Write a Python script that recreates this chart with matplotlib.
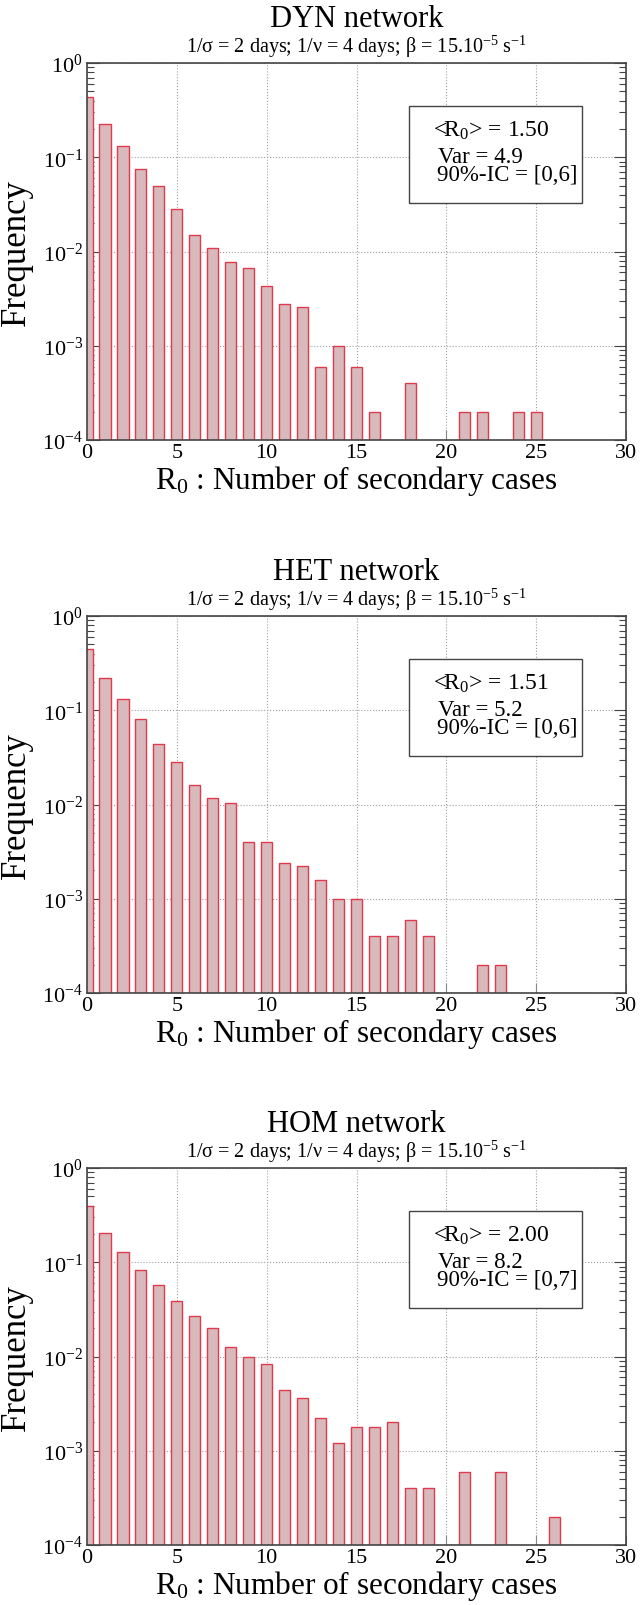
# -*- coding: utf-8 -*-
"""
Description: Distribution of the number of secondary cases (R0) for three
             network types (DYN, HET, HOM), log scale histograms
"""
# =============================     Import modules     =====================
import matplotlib
matplotlib.use('Agg')
import matplotlib.pyplot as plt
from matplotlib.patches import Rectangle
from matplotlib.ticker import LogLocator, NullFormatter, MultipleLocator

# ================   Data  =================================================
dyn_r0   = [0, 1, 2, 3, 4, 5, 6, 7, 8, 9, 10, 11, 12, 13, 14, 15, 16,
            18, 21, 22, 24, 25]
dyn_freq = [0.44, 0.225, 0.131, 0.075, 0.050, 0.028, 0.0151, 0.0110,
            0.0078, 0.0067, 0.0043, 0.0028, 0.0026, 0.0006, 0.0010, 0.0006,
            0.0002, 0.0004, 0.0002, 0.0002, 0.0002, 0.0002]

het_r0   = [0, 1, 2, 3, 4, 5, 6, 7, 8, 9, 10, 11, 12, 13, 14, 15, 16, 17,
            18, 19, 22, 23]
het_freq = [0.449, 0.221, 0.132, 0.0815, 0.0441, 0.0284, 0.0161, 0.0117,
            0.0105, 0.0040, 0.0040, 0.0024, 0.0022, 0.0016, 0.0010, 0.0010,
            0.0004, 0.0004, 0.0006, 0.0004, 0.0002, 0.0002]

hom_r0   = [0, 1, 2, 3, 4, 5, 6, 7, 8, 9, 10, 11, 12, 13, 14, 15, 16, 17,
            18, 19, 21, 23, 26]
hom_freq = [0.397, 0.202, 0.129, 0.083, 0.058, 0.039, 0.027, 0.020,
            0.0125, 0.0098, 0.0084, 0.0044, 0.0036, 0.0022, 0.0012, 0.0018,
            0.0018, 0.0020, 0.0004, 0.0004, 0.0006, 0.0006, 0.0002]

titles    = ['DYN network', 'HET network', 'HOM network']
subtitle  = r'1/σ = 2 days; 1/ν = 4 days; β = 15.10$^{-5}$ s$^{-1}$'
stat_mean = ['1.50', '1.51', '2.00']
stat_var  = ['4.9', '5.2', '8.2']
stat_ic   = ['[0,6]', '[0,6]', '[0,7]']

# ================   Plot settings  ========================================
W, H = 640, 1606
ax_left, ax_right = 87, 626          # px
ax_tops = [64, 617, 1169]            # px from figure top
ax_h    = 377                        # px

bar_fill = '#d9babc'
bar_edge = '#e03a4c'
frame_c  = '#444444'

plt.rcParams['font.family'] = ['Liberation Serif', 'DejaVu Serif']
plt.rcParams['mathtext.fontset'] = 'custom'
plt.rcParams['mathtext.rm'] = 'Liberation Serif'
plt.rcParams['mathtext.it'] = 'Liberation Serif:italic'
plt.rcParams['mathtext.bf'] = 'Liberation Serif:bold'

#=============================    Main program   ==============================
fig = plt.figure(figsize=(W / 100, H / 100), dpi=100)

panels = [(dyn_r0, dyn_freq), (het_r0, het_freq), (hom_r0, hom_freq)]

for i, (r0, freq) in enumerate(panels):
    top = ax_tops[i]
    ax = fig.add_axes([ax_left / W, 1 - (top + ax_h) / H,
                       (ax_right - ax_left) / W, ax_h / H])

    ax.bar(r0, freq, width=0.62, color=bar_fill, edgecolor=bar_edge,
           linewidth=1.0, zorder=2)

    ax.set_yscale('log')
    ax.set_ylim(1e-4, 1)
    ax.set_xlim(0, 30)
    ax.xaxis.set_major_locator(MultipleLocator(5))
    ax.yaxis.set_major_locator(LogLocator(base=10, numticks=10))
    ax.yaxis.set_minor_locator(LogLocator(base=10, subs=range(2, 10), numticks=10))
    ax.yaxis.set_minor_formatter(NullFormatter())

    ax.grid(True, which='major', ls=':', color='#a0a0a0', lw=0.8, zorder=0)
    ax.set_axisbelow(True)

    for s in ax.spines.values():
        s.set_color(frame_c)
        s.set_linewidth(1.2)

    ax.tick_params(axis='x', direction='in', length=7, width=0.8,
                   color='#888888', labelsize=16, pad=2.5)
    ax.tick_params(axis='y', which='major', direction='in', length=9,
                   width=0.8, color=frame_c, labelsize=16, pad=3,
                   left=True, right=True)
    ax.tick_params(axis='y', which='minor', direction='in', length=5,
                   width=0.8, color=frame_c, left=True, right=True)

    ax.set_ylabel('Frequency', fontsize=25)
    ax.yaxis.set_label_coords(-0.100, 0.5)
    # x label goes just under the tick labels (automatic placement)
    ax.set_xlabel(r'R$_0$ : Number of secondary cases', fontsize=22.5,
                  labelpad=0.5)

    # -- Stats box
    ax.add_patch(Rectangle((0.597, 0.629), 0.321, 0.257,
                           transform=ax.transAxes, fill=True,
                           facecolor='white', edgecolor=frame_c,
                           linewidth=1.0, zorder=5))
    ax.text(0.642, 0.822, r'<R$_0$> = ' + stat_mean[i], transform=ax.transAxes,
            fontsize=17, va='center', ha='left', zorder=6)
    ax.text(0.651, 0.753, 'Var = ' + stat_var[i], transform=ax.transAxes,
            fontsize=16.5, va='center', ha='left', zorder=6)
    ax.text(0.649, 0.703, '90%-IC = ' + stat_ic[i], transform=ax.transAxes,
            fontsize=16.5, va='center', ha='left', zorder=6)

    # -- Titles
    xc = (ax_left + ax_right) / 2 / W
    fig.text(xc, 1 - (top - 37) / H, titles[i], fontsize=22,
             ha='center', va='baseline')
    fig.text(xc, 1 - (top - 11) / H, subtitle, fontsize=14.5,
             ha='center', va='baseline')

plt.savefig('out.png', dpi=100)
#=============================    End of program   ============================
